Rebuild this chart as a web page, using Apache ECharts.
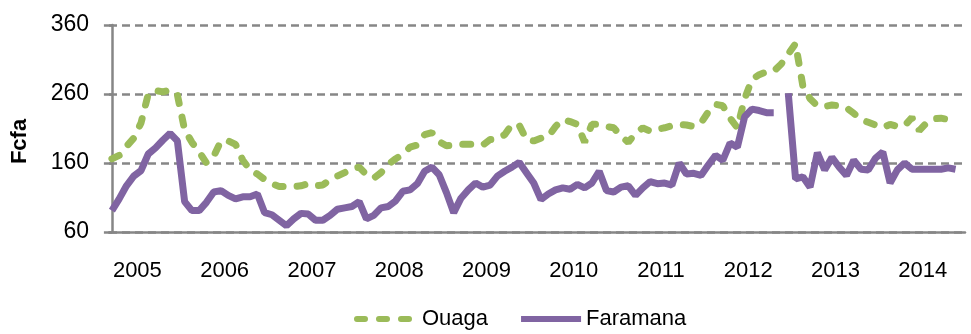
<!DOCTYPE html>
<html>
<head>
<meta charset="utf-8">
<script src="https://cdn.jsdelivr.net/npm/echarts@6/dist/echarts.min.js"></script>
<style>
  html, body { margin: 0; padding: 0; background: #ffffff; }
  #chart { width: 971px; height: 334px; }
</style>
</head>
<body>
<div id="chart"></div>
<script>
// Monthly prices (Fcfa), first value = March 2005, one value per month.
const firstMonth = '2005-03';
const yearLabels = ['2005', '2006', '2007', '2008', '2009', '2010', '2011', '2012', '2013', '2014'];
const yTicks = [60, 160, 260, 360];

const ouaga = [
  166, 171, 184, 196, 218, 260, 265, 263, 266, 259,
  208, 190, 176, 160, 170, 192, 192, 187, 164, 150,
  144, 136, 130, 126, 126, 126, 127, 130, 127, 128,
  136, 141, 146, 152, 154, 143, 138, 146, 158, 166,
  173, 183, 186, 201, 204, 191, 185, 186, 187, 187,
  187, 186, 194, 195, 201, 216, 215, 194, 192, 196,
  198, 213, 223, 220, 216, 190, 216, 216, 213, 211,
  199, 190, 203, 211, 206, 209, 211, 214, 216, 215,
  213, 218, 234, 245, 243, 225, 211, 253, 281, 288,
  292, 293, 303, 318, 333, 272, 253, 243, 242, 244,
  243, 240, 232, 223, 219, 215, 211, 216, 213, 214,
  226, 207, 218, 224, 225, 223
];

const faramana = [
  91, 108, 127, 141, 149, 173, 182, 193, 203, 192,
  104, 91, 91, 103, 118, 120, 113, 108, 111, 111,
  115, 88, 85, 77, 69, 79, 87, 86, 77, 77,
  84, 93, 95, 97, 104, 79, 84, 95, 97, 105,
  119, 121, 130, 148, 154, 143, 117, 88, 109, 121,
  131, 125, 128, 141, 148, 154, 161, 146, 131, 107,
  115, 121, 124, 122, 129, 124, 131, 148, 120, 118,
  125, 127, 113, 124, 133, 130, 131, 128, 160, 144,
  145, 142, 157, 171, 164, 189, 183, 227, 238, 236,
  233, 233, null, 261, 137, 140, 125, 175, 150, 168,
  154, 142, 164, 151, 150, 167, 176, 131, 150, 160,
  151, 151, 151, 151, 151, 153, 151
];

const FONT = '"Liberation Sans", Arial, sans-serif';
const AXIS_GREY = '#868686';
const GREEN = '#9BBB59';
const PURPLE = '#8064A2';

// x is the month count from the first month; years are labelled at mid-year
const startMonthIndex = Number(firstMonth.slice(5)) - 1;          // 2 for March
const yearCenter = k => 12 * k - startMonthIndex + 5.5;
const yearPositions = yearLabels.map((_, k) => yearCenter(k));

const toPoints = arr => arr.map((v, i) => [i, v == null ? '-' : v]);

const chart = echarts.init(document.getElementById('chart'), null, { renderer: 'canvas' });

chart.setOption({
  animation: false,
  backgroundColor: '#ffffff',
  textStyle: { fontFamily: FONT },
  grid: { left: 109, right: 6, top: 25, bottom: 102, containLabel: false },
  legend: {
    left: 349,
    top: 303,
    itemWidth: 60,
    itemHeight: 14,
    itemGap: 30,
    itemStyle: { opacity: 0 },
    lineStyle: { width: 6 },
    textStyle: { fontFamily: FONT, fontSize: 22, color: '#000000' },
    data: ['Ouaga', 'Faramana']
  },
  xAxis: {
    type: 'value',
    min: -0.4,
    max: 117.3,
    axisLine: { show: true, lineStyle: { color: AXIS_GREY, width: 2.5 } },
    axisTick: { show: false },
    splitLine: { show: false },
    axisLabel: {
      customValues: yearPositions,
      margin: 28,
      fontFamily: FONT,
      fontSize: 22,
      color: '#000000',
      formatter: v => yearLabels[Math.round((v - yearPositions[0]) / 12)]
    }
  },
  yAxis: {
    type: 'value',
    min: yTicks[0],
    max: yTicks[yTicks.length - 1],
    interval: yTicks[1] - yTicks[0],
    name: 'Fcfa',
    nameLocation: 'middle',
    nameGap: 78,
    nameRotate: 90,
    nameTextStyle: { fontFamily: FONT, fontSize: 22, fontWeight: 'bold', color: '#000000', padding: [0, 26, 0, 0] },
    axisLine: { show: true, lineStyle: { color: AXIS_GREY, width: 2.5 } },
    axisTick: { show: true, length: 8, lineStyle: { color: AXIS_GREY, width: 2.5 } },
    axisLabel: { margin: 20, fontFamily: FONT, fontSize: 23, color: '#000000' },
    splitLine: { show: true, lineStyle: { color: '#878787', width: 2.5, type: [8, 5] } }
  },
  series: [
    {
      name: 'Ouaga',
      type: 'line',
      data: toPoints(ouaga),
      symbol: 'none',
      connectNulls: false,
      lineStyle: { color: GREEN, width: 7, type: [8, 14], cap: 'round' },
      z: 2
    },
    {
      name: 'Faramana',
      type: 'line',
      data: toPoints(faramana),
      symbol: 'none',
      connectNulls: false,
      lineStyle: { color: PURPLE, width: 7 },
      z: 3
    }
  ]
});
</script>
</body>
</html>
